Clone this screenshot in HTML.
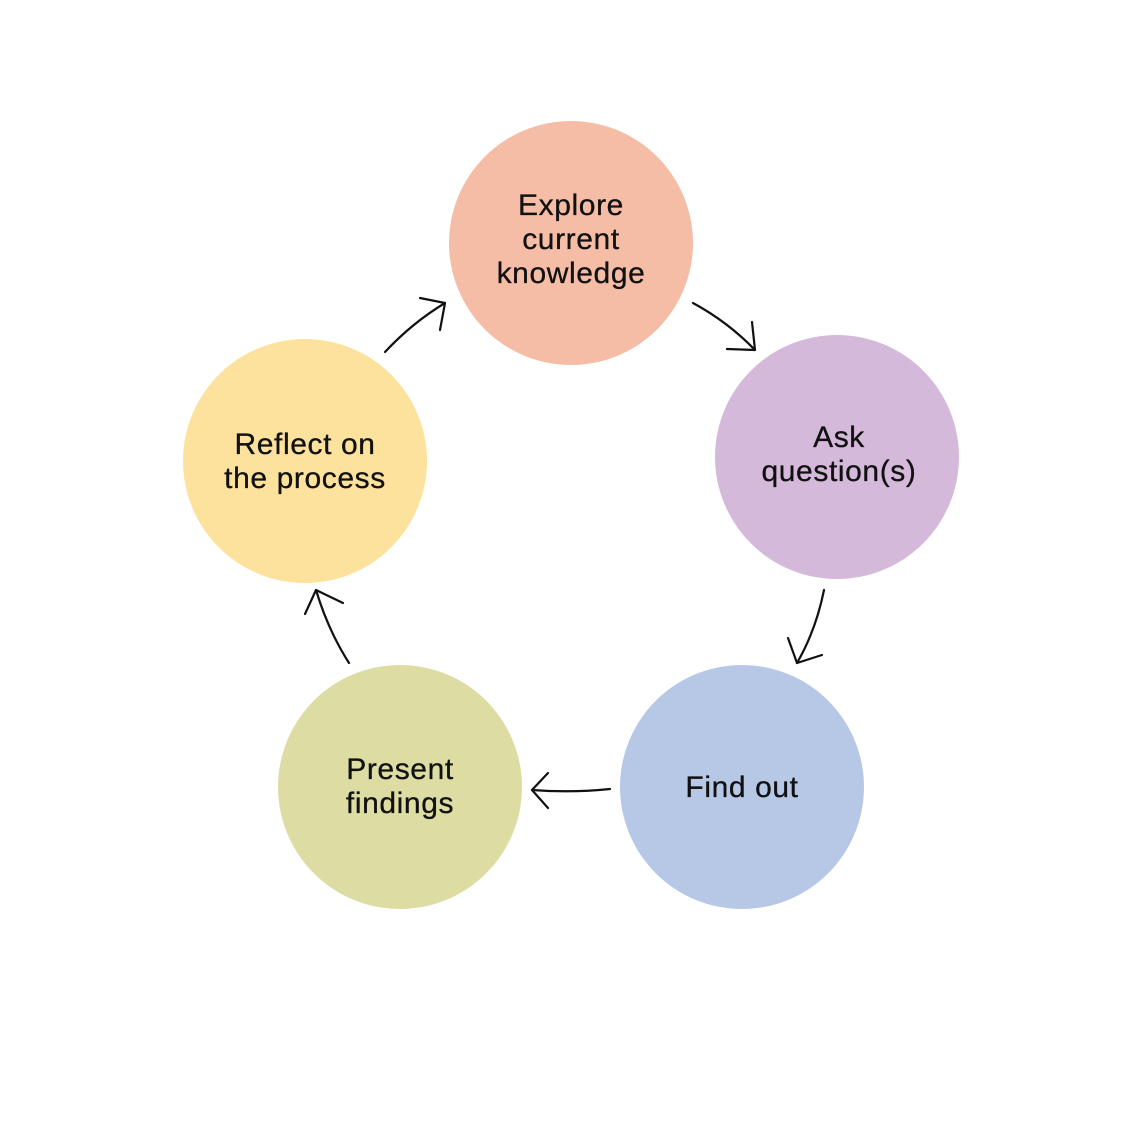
<!DOCTYPE html>
<html><head><style>
html,body{margin:0;padding:0;background:#fff;}
svg{display:block}
text{font-family:"Liberation Sans",sans-serif;font-size:30px;fill:#111;text-anchor:middle;letter-spacing:0.6px;stroke:#111;stroke-width:0.3}
</style></head><body>
<svg width="1134" height="1135" viewBox="0 0 1134 1135" xmlns="http://www.w3.org/2000/svg">
<rect width="1134" height="1135" fill="#fff"/>
<circle cx="571" cy="243" r="122" fill="#F5BDA6"/>
<circle cx="837" cy="457" r="122" fill="#D5B9DA"/>
<circle cx="742" cy="787" r="122" fill="#B7C8E7"/>
<circle cx="400" cy="787" r="122" fill="#DDDCA3"/>
<circle cx="305" cy="461" r="122" fill="#FDE29D"/>
<text x="571" y="215">Explore</text>
<text x="571" y="249">current</text>
<text x="571" y="283">knowledge</text>
<text x="839" y="447">Ask</text>
<text x="839" y="481">question(s)</text>
<text x="742" y="797">Find out</text>
<text x="400" y="779">Present</text>
<text x="400" y="813">findings</text>
<text x="305" y="454">Reflect on</text>
<text x="305" y="488">the process</text>
<g fill="none" stroke="#111" stroke-width="2.2" stroke-linecap="round" stroke-linejoin="round">
<path d="M693 303 Q728 322 755 350"/><path d="M727 349 L755 350 L752 322"/>
<path d="M824 590 Q816 630 797 663"/><path d="M788 638 L797 663 L822 655"/>
<path d="M610 789 Q572 793 532 790"/><path d="M548 773 L532 790 L548 808"/>
<path d="M349 663 Q328 630 316 590"/><path d="M305 614 L316 590 L343 603"/>
<path d="M385 352 Q412 323 445 303"/><path d="M420 298 L445 303 L440 330"/>
</g>
</svg>
</body></html>
